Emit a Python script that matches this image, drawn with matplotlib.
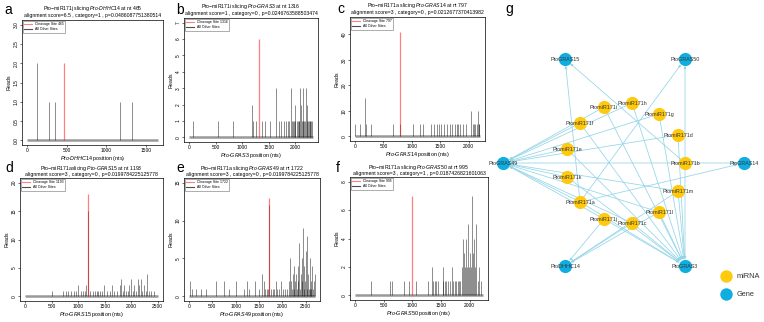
import matplotlib
matplotlib.use('Agg')
import matplotlib.pyplot as plt
from matplotlib.lines import Line2D

plt.rcParams['font.family'] = ['Liberation Sans', 'DejaVu Sans']
plt.rcParams['mathtext.fontset'] = 'custom'
plt.rcParams['mathtext.it'] = 'Liberation Sans:italic'
plt.rcParams['mathtext.rm'] = 'Liberation Sans'

W, H = 764, 322

# ---------------- T-plot data (position in nts, reads) ----------------
a_pos = [125, 275, 352, 1175, 1318]
a_reads = [2, 1, 1, 1, 1]

b_pos = [72, 537, 824, 1182, 1206, 1266, 1373, 1421, 1522, 1642, 1684, 1731, 1790, 1821, 1851,
         1870, 1910, 1940, 1950, 1970, 1990, 2000, 2030, 2050, 2060, 2070, 2090, 2100, 2120,
         2137, 2150, 2161, 2180, 2197, 2209, 2220, 2239, 2250, 2269, 2280, 2299, 2310]
b_reads = [1, 1, 1, 2, 1, 1, 1, 1, 1, 3, 1, 1, 1, 1, 1,
           1, 3, 1, 1, 1, 1, 2, 1, 1, 1, 1, 3, 2, 1,
           3, 1, 1, 1, 3, 2, 1, 1, 1, 1, 1, 1, 1]

c_pos = [8, 95, 180, 195, 285, 665, 795, 1023, 1136, 1193, 1335, 1392, 1437, 1477, 1517,
         1562, 1619, 1665, 1705, 1761, 1790, 1818, 1847, 1892, 1960, 2045, 2074, 2102,
         2119, 2142, 2159, 2176, 2190]
c_reads = [5, 5, 15, 5, 5, 5, 5, 5, 5, 5, 5, 5, 5, 5, 5,
           5, 5, 5, 5, 5, 5, 5, 5, 5, 5, 10, 5, 5,
           5, 5, 10, 5, 5]

d_pos = [504, 706, 768, 799, 860, 921, 964, 995, 1044, 1087, 1124, 1155, 1190, 1228, 1271,
         1308, 1351, 1382, 1413, 1456, 1493, 1536, 1597, 1628, 1677, 1738, 1781, 1812, 1843,
         1873, 1904, 1935, 1966, 1996, 2027, 2058, 2088, 2119, 2150, 2181, 2211, 2242, 2273,
         2303, 2334, 2365, 2426]
d_reads = [1, 1, 1, 1, 1, 1, 1, 2, 1, 1, 1, 2, 15, 1, 1,
           1, 1, 1, 1, 1, 2, 1, 1, 2, 1, 1, 2, 3, 1,
           2, 1, 1, 2, 3, 1, 2, 1, 3, 2, 3, 1, 2, 1,
           4, 1, 1, 1]

e_pos = [14, 69, 139, 264, 361, 569, 750, 847, 1007, 1180, 1250, 1285, 1424, 1493, 1563,
         1597, 1632, 1667, 1701, 1720, 1750, 1792, 1819, 1861, 1896, 1931, 1979, 2014, 2049,
         2097, 2139, 2167, 2194, 2210, 2222, 2243, 2260, 2271, 2292, 2310, 2326, 2340, 2361,
         2380, 2396, 2417, 2430, 2444, 2460, 2472, 2488, 2500, 2520, 2535, 2556, 2570, 2583,
         2600, 2611, 2625, 2639, 2660, 2674, 2694]
e_reads = [2, 1, 1, 1, 1, 2, 2, 1, 2, 1, 2, 1, 2, 1, 3,
           2, 1, 1, 1, 12, 1, 1, 1, 2, 1, 1, 2, 1, 1,
           1, 2, 5, 2, 1, 3, 4, 1, 2, 3, 1, 4, 2, 7,
           1, 3, 5, 2, 9, 1, 4, 2, 6, 1, 8, 3, 1, 5,
           1, 2, 1, 4, 1, 2, 3]

f_pos = [278, 611, 639, 850, 944, 1055, 1278, 1350, 1361, 1389, 1417, 1444, 1528, 1539, 1572,
         1594, 1628, 1650, 1683, 1706, 1739, 1761, 1794, 1817, 1833, 1861, 1878, 1894, 1917,
         1933, 1956, 1972, 1989, 2006, 2028, 2044, 2061, 2083, 2100, 2117, 2139, 2167, 2194]
f_reads = [1, 1, 1, 1, 1, 1, 1, 2, 1, 1, 1, 1, 2, 1, 1,
           1, 1, 1, 2, 1, 1, 1, 1, 1, 1, 2, 4, 3, 2,
           4, 2, 5, 2, 3, 2, 7, 3, 4, 2, 5, 1, 2, 1]

# panel descriptors
mirna_names = ['Pto\u2212miR171j', 'Pto\u2212miR171i', 'Pto\u2212miR171a',
               'Pto\u2212miR171a', 'Pto\u2212miR171a', 'Pto\u2212miR171a']
gene_names = ['DHHC14', 'GRAS3', 'GRAS14', 'GRAS15', 'GRAS49', 'GRAS50']
cleave_sites = [465, 1316, 797, 1193, 1722, 995]
cleave_reads = [2, 6, 41, 18, 13, 7]
align_scores = ['6.5', '1', '3', '3', '3', '3']
categories = [1, 0, 0, 0, 0, 1]
p_values = ['0.0486087751380514', '0.0246763588503474', '0.0212677370413982',
            '0.0199784225125778', '0.0199784225125778', '0.0187426821601063']
gene_lengths = [1650, 2330, 2200, 2500, 2700, 2230]
y_ticks = [[0, 0.5, 1.0, 1.5, 2.0, 2.5, 3.0], list(range(8)), [0, 10, 20, 30, 40],
           [0, 5, 10, 15, 20], [0, 5, 10, 15], [0, 2, 4, 6, 8]]
x_ticks = [[0, 500, 1000, 1500], [0, 500, 1000, 1500, 2000], [0, 500, 1000, 1500, 2000],
           [0, 500, 1000, 1500, 2000, 2500], [0, 500, 1000, 1500, 2000, 2500],
           [0, 500, 1000, 1500, 2000]]
positions = [a_pos, b_pos, c_pos, d_pos, e_pos, f_pos]
reads = [a_reads, b_reads, c_reads, d_reads, e_reads, f_reads]

# ---------------- network data ----------------
mirnas = ['PtomiR171a', 'PtomiR171b', 'PtomiR171c', 'PtomiR171d', 'PtomiR171e', 'PtomiR171f',
          'PtomiR171g', 'PtomiR171h', 'PtomiR171i', 'PtomiR171j', 'PtomiR171k', 'PtomiR171l',
          'PtomiR171m']
genes = ['PtoGRAS15', 'PtoGRAS50', 'PtoGRAS49', 'PtoGRAS14', 'PtoDHHC14', 'PtoGRAS3']
edges = ([(m, 'PtoGRAS49') for m in mirnas] + [(m, 'PtoGRAS3') for m in mirnas] +
         [('PtomiR171j', 'PtoDHHC14'), ('PtomiR171c', 'PtoDHHC14'), ('PtomiR171l', 'PtoDHHC14'),
          ('PtomiR171m', 'PtoDHHC14'), ('PtomiR171a', 'PtoGRAS15'), ('PtomiR171b', 'PtoGRAS15'),
          ('PtomiR171a', 'PtoGRAS50'), ('PtomiR171b', 'PtoGRAS50'),
          ('PtomiR171a', 'PtoGRAS14'), ('PtomiR171b', 'PtoGRAS14')])

# layout (pixel coordinates in the figure)
node_xy = {
    'PtoGRAS15': (565, 59), 'PtoGRAS50': (685, 59), 'PtoGRAS49': (503, 163),
    'PtoGRAS14': (744, 163), 'PtoDHHC14': (565, 266), 'PtoGRAS3': (685, 266),
    'PtomiR171i': (604, 107), 'PtomiR171h': (632, 103), 'PtomiR171g': (659, 114),
    'PtomiR171f': (580, 123), 'PtomiR171d': (678, 135), 'PtomiR171e': (567, 149),
    'PtomiR171b': (685, 163), 'PtomiR171k': (567, 177), 'PtomiR171m': (678, 191),
    'PtomiR171a': (580, 202), 'PtomiR171l': (659, 212), 'PtomiR171j': (604, 219),
    'PtomiR171c': (632, 223),
}
panel_boxes = [(22, 20, 163, 145), (184, 18, 318, 142), (350, 17, 485, 141),
               (20, 178, 163, 301), (184, 178, 320, 301), (350, 177, 488, 300)]
letters = ['a', 'b', 'c', 'd', 'e', 'f', 'g']
letter_xy = [(4, 10), (176, 10), (337, 9), (5, 168), (176, 168), (336, 168), (505, 9)]


def px_rect(l, t, r, b):
    return [l / W, 1 - b / H, (r - l) / W, (b - t) / H]


def draw_tplot(fig, i):
    ax = fig.add_axes(px_rect(*panel_boxes[i]))
    L = gene_lengths[i]
    # zero line for every position of the transcript
    ax.hlines(0, 0, L, color='0.6', lw=1.8, zorder=1)
    ax.vlines(positions[i], 0, reads[i], color='black', alpha=0.45, lw=0.7, zorder=2)
    ax.vlines(cleave_sites[i], 0, cleave_reads[i], color='red', alpha=0.5, lw=0.9, zorder=3)
    yt = y_ticks[i]
    ax.set_xlim(-0.04 * L, 1.04 * L)
    ax.set_ylim(yt[0] - 0.04 * (yt[-1] - yt[0]), yt[-1] + 0.04 * (yt[-1] - yt[0]))
    if i == 2:
        ax.set_ylim(-1.8, 46.8)
    ax.set_xticks(x_ticks[i])
    ax.set_yticks(yt)
    if i == 0:
        ax.set_yticklabels(['%.1f' % v for v in yt])
    ax.tick_params(labelsize=3.5, length=1.5, width=0.4, pad=0.8)
    for lab in ax.get_yticklabels():
        lab.set_rotation(90)
        lab.set_va('center')
    for s in ax.spines.values():
        s.set_linewidth(0.5)
    gene = r'$\mathit{Pto}$-$\mathit{%s}$' % gene_names[i]
    ax.set_xlabel(gene + ' position (nts)', fontsize=3.9, labelpad=0.6)
    ax.set_ylabel('Reads', fontsize=3.9, labelpad=2)
    if i == 3:
        line1 = '%sslicing %s at nt %d' % (mirna_names[i], gene, cleave_sites[i])
    else:
        line1 = '%s slicing %s at nt %d' % (mirna_names[i], gene, cleave_sites[i])
    line2 = 'alignment score=%s , category=%d , p=%s' % (align_scores[i], categories[i], p_values[i])
    top_row = i < 3
    off1, off2 = (8.3, 3.0) if top_row else (7.0, 2.4)
    ax.annotate(line1, (0.5, 1), xycoords='axes fraction', xytext=(0, off1),
                textcoords='offset points', ha='center', va='center', fontsize=3.7)
    ax.annotate(line2, (0.5, 1), xycoords='axes fraction', xytext=(0, off2),
                textcoords='offset points', ha='center', va='center', fontsize=3.7)
    handles = [Line2D([], [], color='red', alpha=0.5, lw=0.8),
               Line2D([], [], color='0.3', lw=0.8)]
    leg = ax.legend(handles, ['Cleavage Site %d' % cleave_sites[i], 'All Other Sites'],
                    loc='upper left', fontsize=2.5, frameon=True, fancybox=False,
                    handlelength=2.2, borderpad=0.5, labelspacing=0.3, borderaxespad=0.15)
    leg.get_frame().set_edgecolor('0.3')
    leg.get_frame().set_linewidth(0.4)


def draw_network(fig):
    ax = fig.add_axes([495 / W, 0, (W - 495) / W, 1])
    ax.set_xlim(495, W)
    ax.set_ylim(H, 0)
    ax.axis('off')
    for m, g in edges:
        ax.annotate('', xy=node_xy[g], xytext=node_xy[m],
                    arrowprops=dict(arrowstyle='-|>', color='#93d5e8', lw=0.55,
                                    mutation_scale=3.5, shrinkA=0, shrinkB=5))
    mx = [node_xy[m][0] for m in mirnas]
    my = [node_xy[m][1] for m in mirnas]
    gx = [node_xy[g][0] for g in genes]
    gy = [node_xy[g][1] for g in genes]
    ax.scatter(mx, my, s=90, color='#FFC90E', zorder=3, linewidths=0)
    ax.scatter(gx, gy, s=90, color='#10AEE0', zorder=3, linewidths=0)
    for n in mirnas + genes:
        ax.text(node_xy[n][0], node_xy[n][1], n, fontsize=3.9, ha='center', va='center',
                color='#333333', zorder=4)
    # legend
    ax.scatter([726], [276], s=80, color='#FFC90E', linewidths=0)
    ax.scatter([726], [294], s=80, color='#10AEE0', linewidths=0)
    ax.text(737, 276, 'miRNA', fontsize=5.3, va='center', color='#333333')
    ax.text(737, 294, 'Gene', fontsize=5.3, va='center', color='#333333')


fig = plt.figure(figsize=(W / 100, H / 100), dpi=100)
for i in range(6):
    draw_tplot(fig, i)
draw_network(fig)
for k, (x, y) in zip(letters, letter_xy):
    fig.text(x / W, 1 - y / H, k, fontsize=10, ha='left', va='center')

fig.savefig('out.png', dpi=100)
plt.close(fig)
